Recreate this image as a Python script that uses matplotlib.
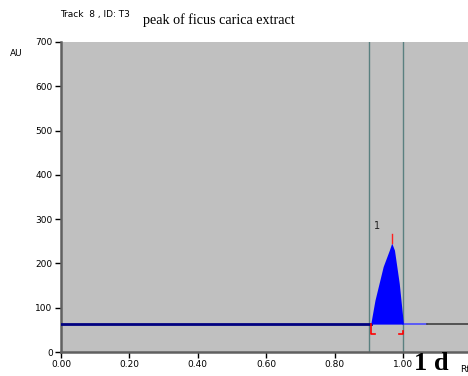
import numpy as np
import matplotlib.pyplot as plt

# densitometry track values
rf_peak = [0.906, 0.918, 0.942, 0.960, 0.967, 0.975, 0.989, 1.001]
au_peak = [65, 117, 193, 230, 246, 230, 155, 65]
baseline_au = 63
rf_front = [0.906, 1.001]   # peak start / end markers
rf_lines = [0.90, 1.00]      # vertical guide lines
peak_top = [246, 266]
peak_label = "1"

x_ticks = [0.0, 0.2, 0.4, 0.6, 0.8, 1.0]
x_labels = ["0.00", "0.20", "0.40", "0.60", "0.80", "1.00"]
y_ticks = [0, 100, 200, 300, 400, 500, 600, 700]

fig = plt.figure(figsize=(4.68, 3.76), dpi=100)
ax = fig.add_axes([0.1303, 0.0638, 0.8697, 0.8245])
ax.set_facecolor("#c0c0c0")
ax.set_xlim(0, 1.19)
ax.set_ylim(0, 700)

# baseline segments
ax.plot([0, rf_front[0]], [baseline_au, baseline_au], color="#000080", lw=2, zorder=3)
ax.plot([rf_front[1], 1.07], [baseline_au, baseline_au], color="#4a4aff", lw=1.2, zorder=3)
ax.plot([1.07, 1.19], [baseline_au, baseline_au], color="#404040", lw=1.2, zorder=3)

# vertical guides
for r in rf_lines:
    ax.axvline(r, color="#5a8080", lw=1, zorder=2)

# peak
ax.fill_between(rf_peak, baseline_au, au_peak, color="#0000ff", lw=0, zorder=4)
ax.plot([rf_peak[4], rf_peak[4]], peak_top, color="#ff2020", lw=1, zorder=5)
ax.text(0.925, 285, peak_label, fontsize=7, ha="center", va="center", color="#202020")

# start/end brackets
ax.plot([rf_front[0], rf_front[0], rf_front[0] + 0.011], [baseline_au, 40, 40],
        color="#ff0000", lw=1.2, zorder=5, clip_on=False)
ax.plot([rf_front[1] - 0.012, rf_front[1], rf_front[1]], [40, 40, 48],
        color="#ff0000", lw=1.2, zorder=5, clip_on=False)

for s in ["top", "right"]:
    ax.spines[s].set_visible(False)
for s in ["left", "bottom"]:
    ax.spines[s].set_color("#606060")
    ax.spines[s].set_linewidth(1.8)

ax.set_xticks(x_ticks)
ax.set_xticklabels(x_labels)
ax.set_yticks(y_ticks)
ax.tick_params(axis="both", labelsize=6.5, length=4, width=1, color="#000000", pad=2)

fig.text(10 / 468, 1 - 53 / 376, "AU", fontsize=6.5, va="center")
fig.text(60 / 468, 1 - 15 / 376, "Track  8 , ID: T3", fontsize=6.5, va="center")
fig.text(143 / 468, 1 - 20 / 376, "peak of ficus carica extract", fontsize=10.2,
         family="Liberation Serif", va="center")
fig.text(414 / 468, 1 - 364 / 376, "1 d", fontsize=19, fontweight="bold",
         family="Liberation Serif", va="center")
fig.text(460 / 468, 1 - 369 / 376, "Rf", fontsize=6.5, va="center")

fig.savefig("out.png", dpi=100)
